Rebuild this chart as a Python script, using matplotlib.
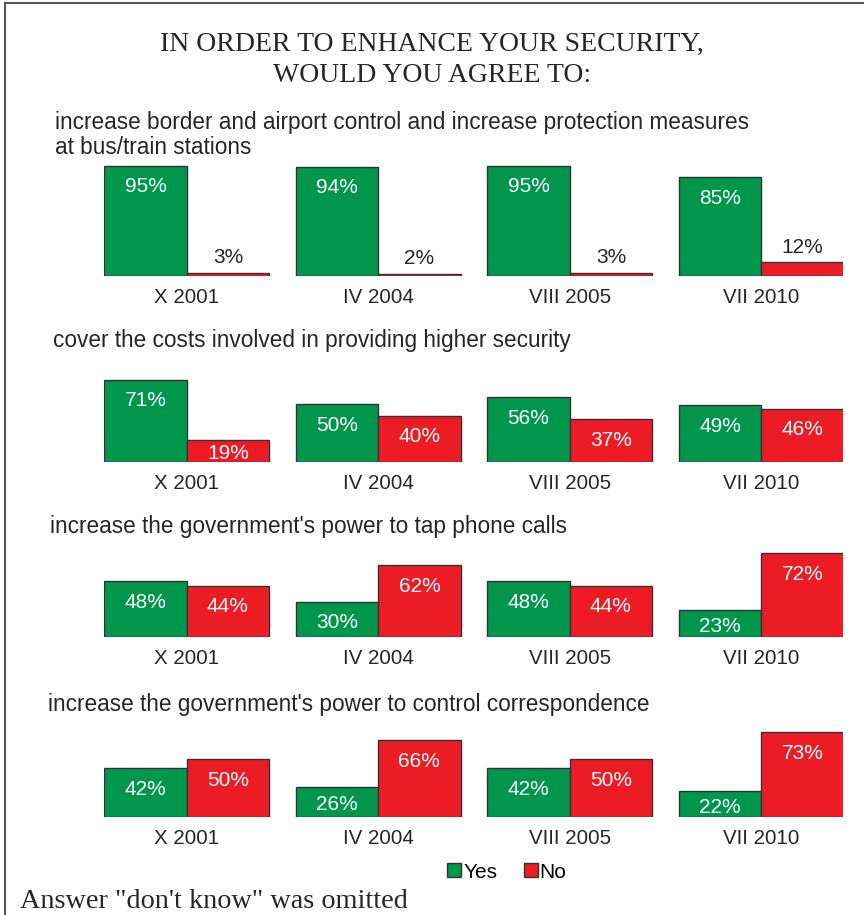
import matplotlib
matplotlib.use('Agg')
import matplotlib.pyplot as plt
from matplotlib.lines import Line2D
from matplotlib.patches import Patch
import numpy as np

plt.rcParams['font.family'] = ['Liberation Sans', 'DejaVu Sans']

waves = ['X 2001', 'IV 2004', 'VIII 2005', 'VII 2010']

questions = [
    'increase border and airport control and increase protection measures\nat bus/train stations',
    'cover the costs involved in providing higher security',
    "increase the government's power to tap phone calls",
    "increase the government's power to control correspondence",
]

yes_border = [95, 94, 95, 85]
no_border = [3, 2, 3, 12]
yes_costs = [71, 50, 56, 49]
no_costs = [19, 40, 37, 46]
yes_phone = [48, 30, 48, 23]
no_phone = [44, 62, 44, 72]
yes_mail = [42, 26, 42, 22]
no_mail = [50, 66, 50, 73]

yes_all = [yes_border, yes_costs, yes_phone, yes_mail]
no_all = [no_border, no_costs, no_phone, no_mail]

green = '#00964B'
red = '#ED1C24'
edge = '#333333'
txt = '#262626'

W, H = 864, 915
fig = plt.figure(figsize=(W / 100, H / 100), dpi=100)

# panel geometry in pixels: baseline y, subtitle y, subtitle x
baselines = [276, 462, 637, 817]
sub_y = [135, 340, 527, 704]
sub_x = [55, 53, 50, 48]
ax_left, ax_right = 104, 843
ax_h = 116  # px for 0..100 %
px = 72 / 100  # points per pixel

x = np.arange(len(waves))
bw = 0.43


def put_label(ax, xi, v):
    h = v * ax_h / 100
    if v < 15:
        dy = 15
        c = txt
    else:
        dy = -min(21, h / 2 + 3)
        c = 'white'
    ax.annotate(f'{v}%', (xi, v), xytext=(0, dy * px), textcoords='offset points',
                ha='center', va='center', color=c, fontsize=15)


for i in range(4):
    b = baselines[i]
    ax = fig.add_axes([ax_left / W, 1 - b / H, (ax_right - ax_left) / W, ax_h / H])
    ax.bar(x, yes_all[i], width=-bw, align='edge', color=green,
           edgecolor=edge, linewidth=1)
    ax.bar(x, no_all[i], width=bw, align='edge', color=red,
           edgecolor=edge, linewidth=1)
    ax.set_xlim(-0.432, 3.427)
    ax.set_ylim(0, 100)
    for s in ax.spines.values():
        s.set_visible(False)
    ax.set_yticks([])
    ax.set_xticks(x)
    ax.set_xticklabels(waves, fontsize=14.8, color=txt)
    ax.tick_params(axis='x', length=0, pad=8.5)
    ax.patch.set_alpha(0)

    for xi, v in zip(x - bw / 2, yes_all[i]):
        put_label(ax, xi, v)
    for xi, v in zip(x + bw / 2, no_all[i]):
        put_label(ax, xi, v)

    fig.text(sub_x[i] / W, 1 - sub_y[i] / H, questions[i], ha='left', va='center',
             fontsize=16.3, color=txt, linespacing=1.06)

fig.text(0.5, 1 - 60 / H, 'IN ORDER TO ENHANCE YOUR SECURITY,\nWOULD YOU AGREE TO:',
         ha='center', va='center', family='Liberation Serif', fontsize=20,
         color=txt, linespacing=1.32)

fig.text(20 / W, 1 - 901 / H, 'Answer "don\'t know" was omitted', ha='left', va='center',
         family='Liberation Serif', fontsize=20.3, color=txt)

handles = [Patch(facecolor=green, edgecolor=edge, label='Yes'),
           Patch(facecolor=red, edgecolor=edge, label='No')]
fig.legend(handles=handles, loc='center', bbox_to_anchor=(507 / W, 1 - 872 / H), ncol=2,
           frameon=False, fontsize=15, handlelength=0.65, handleheight=0.65,
           handletextpad=0.1, columnspacing=1.3, borderpad=0)

# outer frame: top and left edges
fig.add_artist(Line2D([5 / W, 1], [1 - 3 / H, 1 - 3 / H], color='#555555', lw=1.5))
fig.add_artist(Line2D([5 / W, 5 / W], [0, 1 - 3 / H], color='#555555', lw=1.5))

fig.savefig('out.png', dpi=100)
